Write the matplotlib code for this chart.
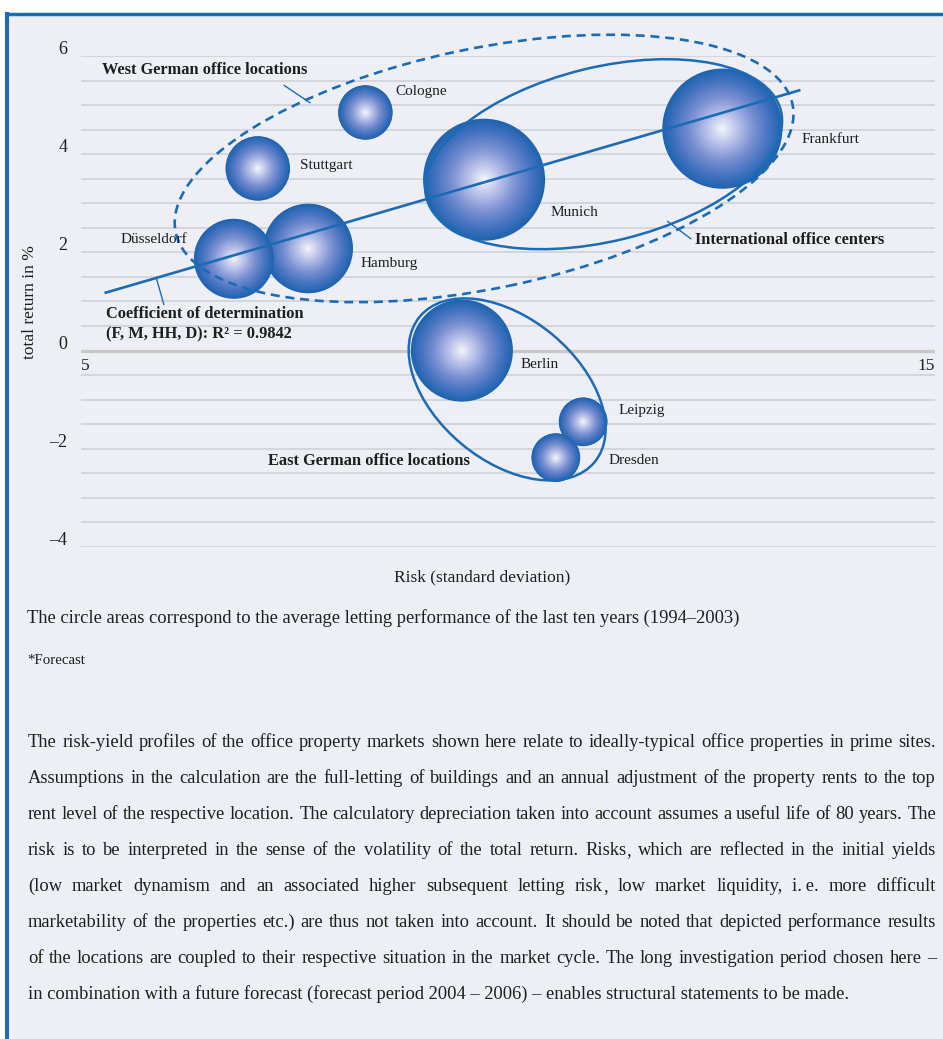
import numpy as np
import matplotlib
matplotlib.use('Agg')
import matplotlib.pyplot as plt
from matplotlib.patches import Ellipse, Rectangle
from matplotlib.lines import Line2D
from matplotlib import transforms as mtrans

plt.rcParams['font.family'] = ['Liberation Serif', 'DejaVu Serif']

# values
cities = ['Frankfurt', 'Munich', 'Cologne', 'Stuttgart', 'Hamburg', 'Düsseldorf',
          'Berlin', 'Leipzig', 'Dresden']
risk = [12.51, 9.72, 8.33, 7.07, 7.66, 6.79, 9.46, 10.88, 10.56]
total_return = [4.52, 3.48, 4.85, 3.71, 2.08, 1.87, 0.00, -1.45, -2.18]
letting = [97, 100, 20, 28, 54, 43, 70, 16, 16]  # relative, circle area

# regression line through F, M, HH, D
trend_risk = [5.29, 13.41]
trend_return = [1.18, 5.30]

y_ticks = [-4, -2, 0, 2, 4, 6]
y_ticklabels = ['–4', '–2', '0', '2', '4', '6']
x_ticks = [5, 15]
x_ticklabels = ['5', '15']

caption = ('The circle areas correspond to the average letting performance '
           'of the last ten years (1994–2003)')
body_lines = [
    'The risk-yield profiles of the office property markets shown here relate to ideally-typical office properties in prime sites.',
    'Assumptions in the calculation are the full-letting of buildings and an annual adjustment of the property rents to the top',
    'rent level of the respective location. The calculatory depreciation taken into account assumes a useful life of 80 years. The',
    'risk is to be interpreted in the sense of the volatility of the total return. Risks, which are reflected in the initial yields',
    '(low market dynamism and an associated higher subsequent letting risk, low market liquidity, i.\u2009e. more difficult',
    'marketability of the properties etc.) are thus not taken into account. It should be noted that depicted performance results',
    'of the locations are coupled to their respective situation in the market cycle. The long investigation period chosen here –',
    'in combination with a future forecast (forecast period 2004 – 2006) – enables structural statements to be made.',
]

W, H, DPI = 943, 1039, 100
BLUE = '#1b6cb5'
BG = '#eeeff5'
TXT = '#1e1e1e'
GRID = '#d5d6db'
FS_TEXT = 13.3


def fx(px):
    return px / W


def fy(py):
    return 1 - py / H


fig = plt.figure(figsize=(W / DPI, H / DPI), dpi=DPI)
fig.patch.set_facecolor('white')

# panel background and blue frame
fig.add_artist(Rectangle((fx(7), 0), 1 - fx(7), fy(13.5), transform=fig.transFigure,
                         facecolor=BG, edgecolor='none', zorder=0))
fig.add_artist(Line2D([fx(7), fx(7)], [0, fy(12)], transform=fig.transFigure,
                      color=BLUE, lw=2.9, solid_capstyle='butt'))
fig.add_artist(Line2D([fx(5), 1], [fy(13.5), fy(13.5)], transform=fig.transFigure,
                      color=BLUE, lw=2.5, solid_capstyle='butt'))

ax = fig.add_axes([fx(81), fy(547), (935 - 81) / W, (547 - 56) / H])
ax.set_xlim(5, 15)
ax.set_ylim(-4, 6)
ax.set_axis_off()

# grid
for v in np.arange(-4, 6.01, 0.5):
    if v == 0:
        ax.axhline(v, color='#c8c8c8', lw=2.3, zorder=1)
    else:
        ax.axhline(v, color=GRID, lw=1.4, zorder=1)

ytrans = mtrans.blended_transform_factory(ax.transAxes, ax.transData)
for v, lab in zip(y_ticks, y_ticklabels):
    ax.text(-0.016, v + 0.04, lab, transform=ytrans, ha='right', va='baseline',
            fontsize=13, color=TXT)
for v, lab in zip(x_ticks, x_ticklabels):
    ax.text(v, -0.39, lab, ha='left' if v == x_ticks[0] else 'right', va='baseline',
            fontsize=12.5, color=TXT)

# bubbles with radial shading
stops_t = [0.0, 0.25, 0.55, 0.8, 1.0]
stops_c = np.array([[0.97, 0.97, 0.99],
                    [0.74, 0.77, 0.92],
                    [0.47, 0.56, 0.82],
                    [0.27, 0.45, 0.75],
                    [0.12, 0.39, 0.69]])
R_MAX = 61  # pixel radius of the largest circle
n_layers = 60
for name, x, y, v in zip(cities, risk, total_return, letting):
    r = R_MAX * np.sqrt(v / 100.0)
    t = np.linspace(1, 0.02, n_layers)
    cols = np.column_stack([np.interp(t, stops_t, stops_c[:, k]) for k in range(3)])
    sizes = (2 * r * t * 72 / DPI) ** 2
    ax.scatter([x] * n_layers, [y] * n_layers, s=sizes, c=cols, linewidths=0,
               zorder=2)

# trend line
ax.plot(trend_risk, trend_return, color=BLUE, lw=1.9, zorder=4, clip_on=False)


def add_ellipse(cx, cy, a, b, angle, **kw):
    c = ax.transData.transform((cx, cy))
    e = Ellipse(c, 2 * a, 2 * b, angle=angle, transform=mtrans.IdentityTransform(),
                fill=False, edgecolor=BLUE, clip_on=False, zorder=4, **kw)
    ax.add_artist(e)


add_ellipse(9.72, 3.71, 315, 120, 11.7, lw=1.9, linestyle=(0, (3.4, 2.2)))
add_ellipse(11.12, 4.00, 182.5, 87, 13.75, lw=1.8)
add_ellipse(9.99, -0.79, 113.7, 71.1, -39.8, lw=1.8)

# city labels
label_pos = {
    'Cologne': (8.68, 5.27), 'Stuttgart': (7.56, 3.77), 'Düsseldorf': (5.46, 2.26),
    'Hamburg': (8.27, 1.77), 'Munich': (10.50, 2.81), 'Frankfurt': (13.44, 4.30),
    'Berlin': (10.15, -0.29), 'Leipzig': (11.29, -1.22), 'Dresden': (11.18, -2.24),
}
for name in cities:
    lx, ly = label_pos[name]
    ax.text(lx, ly, name, ha='left', va='center', fontsize=11, color=TXT, zorder=5)

# group labels and leaders
bold = dict(ha='left', va='center', fontsize=11.8, fontweight='bold', color=TXT, zorder=5)
ax.text(5.25, 5.72, 'West German office locations', **bold)
ax.text(12.19, 2.26, 'International office centers', **bold)
ax.text(7.19, -2.24, 'East German office locations', **bold)
ax.text(5.29, 0.75, 'Coefficient of determination', **bold)
ax.text(5.29, 0.32, '(F, M, HH, D): R² = 0.9842', **bold)
leader = dict(color=BLUE, lw=1.0, zorder=4, clip_on=False)
ax.plot([7.38, 7.68], [5.40, 5.05], **leader)
ax.plot([5.88, 5.97], [1.49, 0.94], **leader)
ax.plot([11.87, 12.14], [2.63, 2.28], **leader)

# axis titles
fig.text(fx(30), fy(302), 'total return in %', rotation=90, ha='center', va='center',
         fontsize=12.5, color=TXT)
fig.text(fx(482), fy(577), 'Risk (standard deviation)', ha='center', va='center',
         fontsize=12.5, color=TXT)

# notes below the chart
fig.text(fx(27), fy(618), caption, ha='left', va='center', fontsize=FS_TEXT, color=TXT)
fig.text(fx(27), fy(661), '*Forecast', ha='left', va='center', fontsize=10.7, color=TXT)

# justified paragraph, one text per word
renderer = fig.canvas.get_renderer()
left, right = 28, 936
txt_kw = dict(ha='left', va='baseline', fontsize=FS_TEXT, color=TXT)


def width_of(s):
    t = fig.text(0, 0, s, **txt_kw)
    w = t.get_window_extent(renderer).width
    t.remove()
    return w


comma_w = width_of(',')
for i, line in enumerate(body_lines):
    y = fy(747 + 36 * i)
    if i == len(body_lines) - 1:
        fig.text(fx(left), y, line, **txt_kw)
        continue
    words = line.split(' ')
    widths = [width_of(w) for w in words]
    gap = (right - left - sum(widths)) / (len(words) - 1)
    x = left
    for w, wd in zip(words, widths):
        # a trailing comma on a word without descenders gets drawn low by Agg,
        # so put the comma in its own text
        if w.endswith(',') and not any(c in w for c in 'gjpqy()'):
            fig.text(fx(x), y, w[:-1], **txt_kw)
            fig.text(fx(x + wd - comma_w), y, ',', **txt_kw)
        else:
            fig.text(fx(x), y, w, **txt_kw)
        x += wd + gap

plt.savefig('out.png', dpi=DPI, facecolor=fig.get_facecolor())
